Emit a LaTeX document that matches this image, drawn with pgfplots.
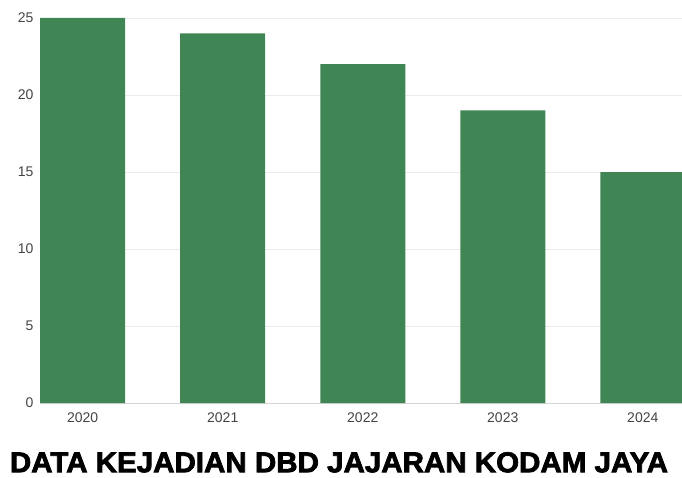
\documentclass[border=0pt]{standalone}
\usepackage{pgfplots}
\pgfplotsset{compat=1.18}
\usepackage{fontspec}
\setmainfont{Liberation Sans}
\newfontfamily\titlefont{Liberation Sans Bold}[FakeBold=2.5]
\definecolor{barg}{RGB}{63,134,84}
\definecolor{tickc}{RGB}{68,68,68}
\definecolor{gridc}{RGB}{235,235,235}
\begin{document}
\begin{tikzpicture}
\path[use as bounding box] (-40pt,-74pt) rectangle (642pt,403pt);
\begin{axis}[
  at={(0pt,0pt)}, anchor=south west,
  scale only axis, width=642pt, height=385pt,
  xmin=-0.305, xmax=4.28, ymin=0, ymax=25,
  ybar, bar width=85pt, bar shift=0pt,
  xtick=data, xticklabels={2020,2021,2022,2023,2024},
  ytick={0,5,10,15,20,25},
  ymajorgrids, grid style={gridc, line width=0.8pt},
  axis line style={draw=none},
  axis x line*=bottom, axis y line*=left,
  x axis line style={draw=gridc!80!gray, line width=1pt},
  y axis line style={draw=none},
  major tick length=0pt,
  tick label style={font=\fontsize{14}{16}\selectfont, text=tickc},
  yticklabel style={xshift=-3pt},
  xticklabel style={yshift=-6pt},
  /pgf/number format/assume math mode=true,
  clip=true,
]
\addplot[fill=barg, draw=none] coordinates {(0,25) (1,24) (2,22) (3,19) (4,15)};
\end{axis}
\node[anchor=north, inner sep=0pt] at (299pt,-49pt) {\resizebox{658pt}{20pt}{\titlefont DATA KEJADIAN DBD JAJARAN KODAM JAYA}};
\end{tikzpicture}
\end{document}
